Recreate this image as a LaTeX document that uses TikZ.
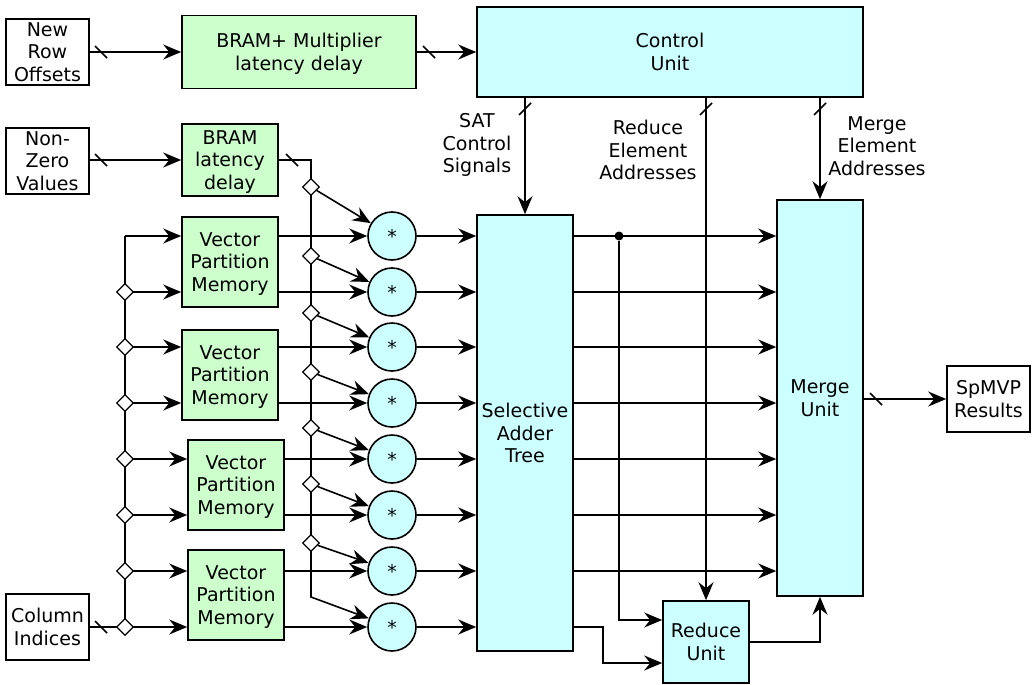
\documentclass[tikz,border=0pt]{standalone}
\usepackage{fontspec}
\setmainfont{DejaVu Sans}
\usetikzlibrary{arrows.meta,shapes.geometric}

\definecolor{memgreen}{HTML}{CCFFCC}
\definecolor{unitcyan}{HTML}{CCFFFF}

% bus width ticks
\newcommand{\hbus}[1]{\draw (#1) +(-6,-6) -- +(6,6);}
\newcommand{\vbus}[1]{\draw (#1) +(-6,6) -- +(6,-6);}

\begin{document}
\begin{tikzpicture}[x = 1pt, y = -1pt, line width = 1.6pt,
    >={Stealth[length=18pt,width=15pt,inset=6pt]},
    every node/.style = {font=\fontsize{19}{22.5}\selectfont, align=center, inner sep=0pt},
    iobox/.style = {draw, fill=white, minimum width=83, minimum height=66},
    memblock/.style = {draw, fill=memgreen, minimum width=96, minimum height=90},
    unitblock/.style = {draw, fill=unitcyan},
    mult/.style = {circle, draw, fill=unitcyan, minimum size=48},
    tap/.style = {diamond, draw, fill=white, minimum size=17, line width=1.2pt},
    junction/.style = {circle, fill, minimum size=9}]
    \useasboundingbox (0,0) rectangle (1033,685);

    % inputs
    \node[iobox] (nro) at (47.5,52) {New\\Row\\Offsets};
    \node[iobox] (nzv) at (47.5,161) {Non-\\Zero\\Values};
    \node[iobox] (ci) at (47.5,627) {Column\\Indices};
    \node[iobox] (res) at (988.5,399) {SpMVP\\Results};

    % delays and memories
    \node[memblock, minimum width=234, minimum height=73] (bmd) at (299,52) {BRAM+ Multiplier\\\smash{latency delay}};
    \node[memblock, minimum height=72] (bld) at (230,160) {BRAM\\latency\\\smash{delay}};
    \node[memblock] (vpm1) at (230,262) {Vector\\Partition\\\smash{Memory}};
    \node[memblock] (vpm2) at (230,375) {Vector\\Partition\\\smash{Memory}};
    \node[memblock] (vpm3) at (236,485) {Vector\\Partition\\\smash{Memory}};
    \node[memblock] (vpm4) at (236,595) {Vector\\Partition\\\smash{Memory}};

    % multipliers
    \foreach \i/\y in {1/236,2/292,3/347,4/403,5/459,6/515,7/571,8/627}
        \node[mult] (m\i) at (392,\y) {*};

    % units
    \node[unitblock, minimum width=386, minimum height=90] (cu) at (670,52) {Control\\Unit};
    \node[unitblock, minimum width=96, minimum height=436] (sat) at (525,433) {Selective\\Adder\\Tree};
    \node[unitblock, minimum width=86, minimum height=396] (mu) at (820,398) {Merge\\Unit};
    \node[unitblock, minimum width=86, minimum height=82] (ru) at (706,642) {Reduce\\Unit};

    % control labels
    \node (lsat) at (477,143) {SAT\\Control\\\smash{Signals}};
    \node (lred) at (648,150) {Reduce\\Element\\Addresses};
    \node (lmer) at (877,146) {Merge\\Element\\Addresses};

    \coordinate (nzbend) at (311,160);
    \coordinate (nzend) at (311,597);
    \coordinate (ctop) at (125,236);
    \coordinate (cbot) at (125,627);

    \draw[->] (nro.east) -- (bmd.west |- nro.east);
    \draw[->] (bmd.east) -- (cu.west |- bmd.east);
    \draw[->] (nzv.east |- bld.west) -- (bld.west);
    \draw[->] (bld.east) -- (nzbend) -- (nzend) -- (m8);
    \draw (ci.east) -- (cbot) -- (ctop);
    \foreach \v/\a/\b in {1/1/2,2/3/4,3/5/6,4/7/8} {
        \draw[->] (ctop |- m\a) -- (vpm\v.west |- m\a);
        \draw[->] (ctop |- m\b) -- (vpm\v.west |- m\b);
        \draw[->] (vpm\v.east |- m\a) -- (m\a);
        \draw[->] (vpm\v.east |- m\b) -- (m\b);
    }
    \foreach \i in {1,...,8}
        \draw[->] (m\i) -- (m\i -| sat.west);

    % taps on the non-zero values bus
    \foreach \i/\y in {1/187,2/256,3/313,4/372,5/428,6/484,7/543} {
        \node[tap] (t\i) at (311,\y) {};
        \draw[->] (t\i) -- (m\i);
    }
    \foreach \i/\y in {2/292,3/347,4/403,5/459,6/515,7/571,8/627}
        \node[tap] (c\i) at (125,\y) {};

    % adder tree outputs
    \foreach \i in {1,...,7}
        \draw[->] (m\i -| sat.east) -- (m\i -| mu.west);
    \node[junction] (dot) at (619,236) {};
    \draw[->] (dot) |- ([yshift=22pt]ru.west);
    \draw[->] (m8 -| sat.east) -- ++(29,0) |- ([yshift=-21pt]ru.west);
    \draw[->] (ru.east) -| (mu.south);

    % control unit outputs
    \draw[->] (sat.north |- cu.south) -- (sat.north);
    \draw[->] (ru.north |- cu.south) -- (ru.north);
    \draw[->] (mu.north |- cu.south) -- (mu.north);
    \draw[->] (mu.east |- res) -- (res.west);

    \hbus{101,52} \hbus{429,52} \hbus{101,160} \hbus{292,160} \hbus{101,627} \hbus{876,399}
    \vbus{525,109} \vbus{706,109} \vbus{820,109}
\end{tikzpicture}
\end{document}
